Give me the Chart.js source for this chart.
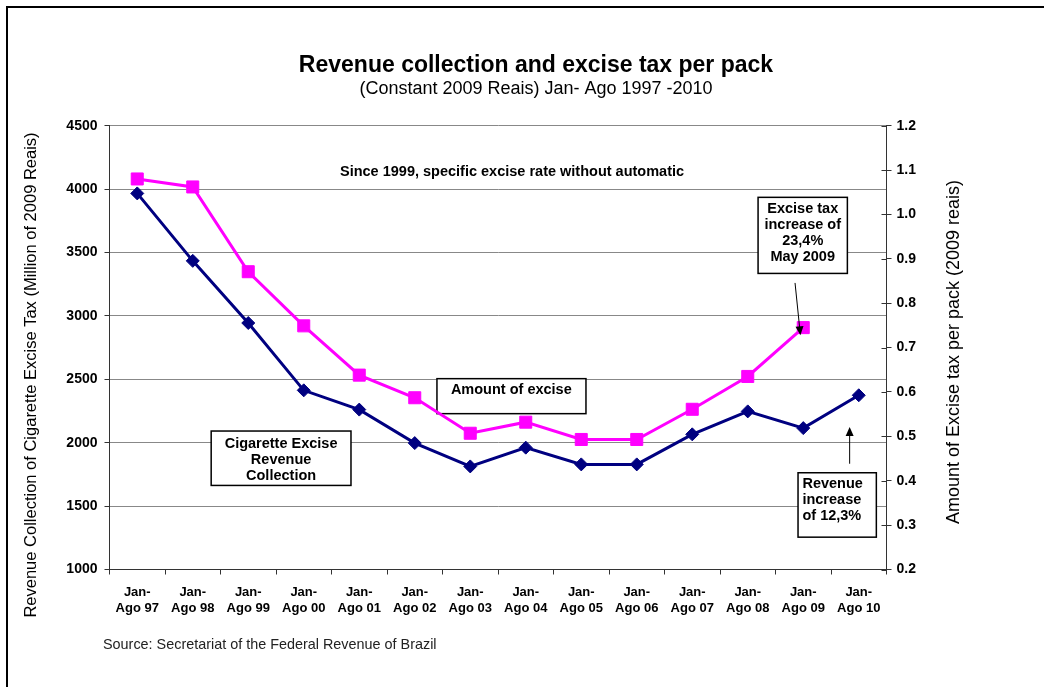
<!DOCTYPE html>
<html>
<head>
<meta charset="utf-8">
<script src="https://cdn.jsdelivr.net/npm/chart.js@4.4.0/dist/chart.umd.min.js"></script>
<style>
  html, body { margin: 0; padding: 0; background: #fff; }
  #wrap { width: 1044px; height: 687px; }
</style>
</head>
<body>
<div id="wrap"><canvas id="chart" width="1044" height="687"></canvas></div>
<script>
var categories = [
  ['Jan-', 'Ago 97'], ['Jan-', 'Ago 98'], ['Jan-', 'Ago 99'], ['Jan-', 'Ago 00'],
  ['Jan-', 'Ago 01'], ['Jan-', 'Ago 02'], ['Jan-', 'Ago 03'], ['Jan-', 'Ago 04'],
  ['Jan-', 'Ago 05'], ['Jan-', 'Ago 06'], ['Jan-', 'Ago 07'], ['Jan-', 'Ago 08'],
  ['Jan-', 'Ago 09'], ['Jan-', 'Ago 10']
];
// million of 2009 reais (left axis)
var revenue = [3966, 3434, 2944, 2413, 2261, 1997, 1813, 1961, 1829, 1829, 2066, 2247, 2115, 2374];
// reais per pack (right axis)
var taxPerPack = [1.080, 1.062, 0.871, 0.749, 0.638, 0.587, 0.507, 0.532, 0.493, 0.493, 0.561, 0.635, 0.745, null];

var leftMin = 1000, leftMax = 4500, leftStep = 500;
var rightMin = 0.2, rightMax = 1.2, rightStep = 0.1;

var FONT = "'Liberation Sans', Arial, sans-serif";

// text boxes, placed in data units (category index / left axis value)
var notes = [
  { lines: ['Cigarette Excise', 'Revenue', 'Collection'], box: [1.332, 3.851, 2092, 1663], tx: 2.59, ty: 1992, align: 'center' },
  { lines: ['Amount of excise'], box: [5.40, 8.085, 2505, 2229], tx: 5.651, ty: 2413, align: 'left' },
  { lines: ['Excise tax', 'increase of', '23,4%', 'May 2009'], box: [11.186, 12.795, 3935, 3335], tx: 11.99, ty: 3845, align: 'center' },
  { lines: ['Revenue', 'increase', 'of 12,3%'], box: [11.906, 13.317, 1763, 1255], tx: 11.985, ty: 1671, align: 'left' },
  { lines: ['Since 1999, specific excise rate without automatic'], box: null, tx: 6.753, ty: 4134, align: 'center' }
];
var arrows = [
  [11.852, 3260, 11.949, 2847],
  [12.836, 1834, 12.836, 2123]
];

var extras = {
  id: 'extras',
  beforeDatasetsDraw: function(chart) {
    var ctx = chart.ctx, xs = chart.scales.x, ys = chart.scales.y;
    ctx.save();
    ctx.font = 'bold 14.5px ' + FONT;
    ctx.textBaseline = 'middle';
    notes.forEach(function(n) {
      var tx = xs.getPixelForValue(n.tx), ty = ys.getPixelForValue(n.ty);
      if (n.box) {
        var x0 = xs.getPixelForValue(n.box[0]), x1 = xs.getPixelForValue(n.box[1]);
        var y0 = ys.getPixelForValue(n.box[2]), y1 = ys.getPixelForValue(n.box[3]);
        ctx.fillStyle = '#fff';
        ctx.fillRect(x0, y0, x1 - x0, y1 - y0);
        ctx.strokeStyle = '#000';
        ctx.lineWidth = 1.5;
        ctx.strokeRect(x0, y0, x1 - x0, y1 - y0);
        if (n.align === 'center') tx = (x0 + x1) / 2;
      }
      ctx.fillStyle = '#000';
      ctx.textAlign = n.align;
      n.lines.forEach(function(l, i) { ctx.fillText(l, tx, ty + i * 16); });
    });
    ctx.restore();
  },
  afterDatasetsDraw: function(chart) {
    var ctx = chart.ctx, xs = chart.scales.x, ys = chart.scales.y;
    ctx.save();
    ctx.strokeStyle = '#000';
    ctx.fillStyle = '#000';
    ctx.lineWidth = 1;
    arrows.forEach(function(a) {
      var x0 = xs.getPixelForValue(a[0]), y0 = ys.getPixelForValue(a[1]);
      var x1 = xs.getPixelForValue(a[2]), y1 = ys.getPixelForValue(a[3]);
      var ang = Math.atan2(y1 - y0, x1 - x0);
      ctx.beginPath();
      ctx.moveTo(x0, y0);
      ctx.lineTo(x1 - 6 * Math.cos(ang), y1 - 6 * Math.sin(ang));
      ctx.stroke();
      ctx.beginPath();
      ctx.moveTo(x1, y1);
      ctx.lineTo(x1 - 9 * Math.cos(ang) + 4 * Math.sin(ang), y1 - 9 * Math.sin(ang) - 4 * Math.cos(ang));
      ctx.lineTo(x1 - 9 * Math.cos(ang) - 4 * Math.sin(ang), y1 - 9 * Math.sin(ang) + 4 * Math.cos(ang));
      ctx.closePath();
      ctx.fill();
    });
    ctx.restore();
  },
  afterDraw: function(chart) {
    var ctx = chart.ctx, area = chart.chartArea, r = chart.scales.y1;
    ctx.save();
    // inner half of the right axis ticks
    ctx.strokeStyle = '#333';
    ctx.lineWidth = 1;
    r.ticks.forEach(function(t) {
      var y = Math.round(r.getPixelForValue(t.value)) + 0.5;
      ctx.beginPath();
      ctx.moveTo(area.right - 5, y);
      ctx.lineTo(area.right, y);
      ctx.stroke();
    });
    // slide frame
    ctx.strokeStyle = '#000';
    ctx.lineWidth = 2;
    ctx.beginPath();
    ctx.moveTo(7, 687);
    ctx.lineTo(7, 7);
    ctx.lineTo(1044, 7);
    ctx.stroke();
    // title
    ctx.fillStyle = '#000';
    ctx.textAlign = 'center';
    ctx.textBaseline = 'middle';
    ctx.font = 'bold 23px ' + FONT;
    ctx.fillText('Revenue collection and excise tax per pack', 536, 66);
    ctx.font = '18px ' + FONT;
    ctx.fillText('(Constant 2009 Reais) Jan- Ago 1997 -2010', 536, 89);
    // axis titles
    ctx.font = '16.5px ' + FONT;
    ctx.translate(31, 375);
    ctx.rotate(-Math.PI / 2);
    ctx.fillText('Revenue Collection of Cigarette Excise Tax (Million of 2009 Reais)', 0, 0);
    ctx.setTransform(1, 0, 0, 1, 0, 0);
    ctx.font = '18px ' + FONT;
    ctx.translate(954, 352);
    ctx.rotate(-Math.PI / 2);
    ctx.fillText('Amount of Excise tax per pack (2009 reais)', 0, 0);
    ctx.setTransform(1, 0, 0, 1, 0, 0);
    // source
    ctx.font = '14.4px ' + FONT;
    ctx.textAlign = 'left';
    ctx.fillStyle = '#222';
    ctx.fillText('Source: Secretariat of the Federal Revenue of Brazil', 103, 645);
    ctx.restore();
  }
};

new Chart(document.getElementById('chart'), {
  type: 'line',
  data: {
    labels: categories,
    datasets: [{
      label: 'Cigarette Excise Revenue Collection',
      data: revenue,
      yAxisID: 'y',
      borderColor: '#000080',
      backgroundColor: '#000080',
      borderWidth: 3,
      pointStyle: 'rectRot',
      pointRadius: 6.5,
      pointBorderWidth: 1,
      tension: 0
    }, {
      label: 'Amount of excise',
      data: taxPerPack,
      yAxisID: 'y1',
      borderColor: '#FF00FF',
      backgroundColor: '#FF00FF',
      borderWidth: 3,
      pointStyle: 'rect',
      pointRadius: 8.5,
      pointBorderWidth: 1,
      tension: 0
    }]
  },
  options: {
    responsive: false,
    animation: false,
    layout: { padding: { top: 125.7 } },
    plugins: {
      legend: { display: false },
      tooltip: { enabled: false }
    },
    scales: {
      x: {
        offset: true,
        grid: { drawOnChartArea: false, offset: true, tickLength: 5, color: '#333' },
        border: { color: '#333' },
        ticks: { color: '#000', font: { family: FONT, size: 13, weight: 'bold', lineHeight: 1.25 }, padding: 10, maxRotation: 0, autoSkip: false },
        afterFit: function(s) { s.height = 117.5; }
      },
      y: {
        position: 'left',
        min: leftMin, max: leftMax,
        grid: { color: '#888', tickColor: '#333', tickLength: 5 },
        border: { color: '#333' },
        ticks: {
          stepSize: leftStep, color: '#000', font: { family: FONT, size: 14, weight: 'bold' }, padding: 7,
          callback: function(v) { return String(v); }
        },
        afterFit: function(s) { s.width = 109.5; }
      },
      y1: {
        position: 'right',
        min: rightMin, max: rightMax,
        grid: { drawOnChartArea: false, color: '#333', tickLength: 5 },
        border: { color: '#333' },
        ticks: {
          stepSize: rightStep, color: '#000', font: { family: FONT, size: 14, weight: 'bold' }, padding: 5,
          callback: function(v) { return v.toFixed(1); }
        },
        afterFit: function(s) { s.width = 157.5; }
      }
    }
  },
  plugins: [extras]
});
</script>
</body>
</html>
